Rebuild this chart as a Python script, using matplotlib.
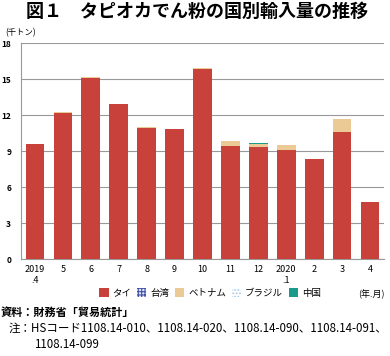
import numpy as np
import matplotlib
matplotlib.use('Agg')
import matplotlib.pyplot as plt
from matplotlib.patches import Patch

plt.rcParams['font.family'] = ['Noto Sans CJK JP', 'DejaVu Sans']
plt.rcParams['hatch.linewidth'] = 0.8

## data (千トン)
months = ['2019\n.4', '5', '6', '7', '8', '9', '10', '11', '12', '2020\n.1', '2', '3', '4']
thai = [9.6, 12.2, 15.15, 12.95, 10.95, 10.85, 15.83, 9.47, 9.33, 9.13, 8.33, 10.63, 4.78]
taiwan = [0, 0, 0, 0, 0, 0, 0, 0, 0, 0, 0, 0, 0]
vietnam = [0.03, 0.05, 0.02, 0.02, 0.08, 0.05, 0.15, 0.39, 0.25, 0.4, 0.02, 1.03, 0.0]
brazil = [0, 0, 0, 0, 0, 0, 0, 0, 0.02, 0, 0, 0, 0]
china = [0, 0, 0, 0, 0, 0, 0, 0, 0.1, 0, 0, 0, 0]

series = [
    ('タイ', thai, '#c8413a', None, '#c8413a'),
    ('台湾', taiwan, '#dde0f2', '+++++', '#4455aa'),
    ('ベトナム', vietnam, '#ebca95', None, '#ebca95'),
    ('ブラジル', brazil, 'white', '.....', '#9fc5e8'),
    ('中国', china, '#1a9a8c', None, '#1a9a8c'),
]

fig = plt.figure(figsize=(3.9, 3.56), dpi=100)
ax = fig.add_axes([21 / 390, 1 - 259.3 / 356, 363 / 390, 216 / 356])

x = np.arange(len(months))
bottom = np.zeros(len(months))
handles = []
for name, vals, fc, hatch, ec in series:
    vals = np.array(vals)
    ax.bar(x, vals, width=0.67, bottom=bottom, color=fc, hatch=hatch,
           edgecolor=ec, linewidth=0, zorder=3)
    bottom += vals
    handles.append(Patch(facecolor=fc, hatch=hatch, edgecolor=ec, linewidth=0, label=name))

ax.set_xlim(-0.5, len(months) - 0.5)
ax.set_ylim(0, 18)
ax.set_yticks(np.arange(0, 19, 3))
ax.tick_params(axis='y', length=0, labelsize=6, pad=7)
ax.tick_params(axis='x', length=0, labelsize=6.5, pad=4)
for lab in ax.get_yticklabels():
    lab.set_fontweight('bold')
ax.set_xticks(x)
ax.set_xticklabels(months, linespacing=1.3)
ax.grid(axis='y', color='#999999', linewidth=0.8, zorder=0)
for s in ['top', 'right']:
    ax.spines[s].set_visible(False)
ax.spines['left'].set_color('#999999')
ax.spines['bottom'].set_color('#999999')

fig.text(197 / 390, 1 - 11 / 356, '図１　タピオカでん粉の国別輸入量の推移', ha='center', va='center',
         fontsize=13, fontweight='bold')
fig.text(5 / 390, 1 - 33 / 356, '(千トン)', ha='left', va='center', fontsize=6)

fig.legend(handles=handles, loc='center', bbox_to_anchor=(210 / 390, 1 - 293 / 356),
           ncol=5, frameon=False, fontsize=6.8, handlelength=1.0, handleheight=1.0,
           handletextpad=0.4, columnspacing=0.6)
fig.text(385 / 390, 1 - 294 / 356, '(年.月)', ha='right', va='center', fontsize=6.5)

fig.text(1 / 390, 1 - 312 / 356, '資料：財務省「貿易統計」', ha='left', va='center',
         fontsize=8, fontweight='bold')
fig.text(9 / 390, 1 - 328 / 356, '注：HSコード1108.14-010、1108.14-020、1108.14-090、1108.14-091、',
         ha='left', va='center', fontsize=8.3)
fig.text(34 / 390, 1 - 344 / 356, '1108.14-099', ha='left', va='center', fontsize=8.3)

fig.savefig('out.png', dpi=100)
